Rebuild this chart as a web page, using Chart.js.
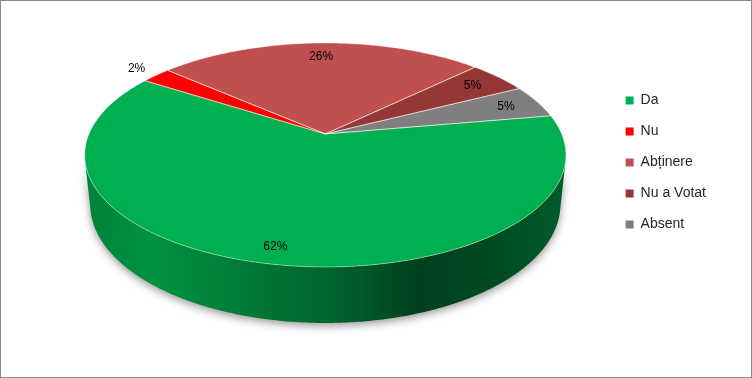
<!DOCTYPE html>
<html><head><meta charset="utf-8">
<script src="https://cdn.jsdelivr.net/npm/chart.js@4/dist/chart.umd.min.js"></script>
<style>html,body{margin:0;padding:0;background:#fff;}#wrap{width:752px;height:378px;position:relative;}</style>
</head><body><div id="wrap"><canvas id="c" width="752" height="378"></canvas></div>
<script>
// ---- data ----
const categories = ['Da', 'Nu', 'Abținere', 'Nu a Votat', 'Absent'];
const votes = [26, 1, 11, 2, 2];
const sliceColors = ['#00B050', '#FF0000', '#C0504D', '#953735', '#7F7F7F'];
const firstSliceAngle = 80;

// ---- 3D view (perspective) ----
const TILT = 27.2 * Math.PI / 180;
const RAD = 0.2109;
const THICK = 0.05;
const FIG_FRAC = 0.8615;
const FIG_SHIFT = 0.126;
// wall shading stops: [position 0..1 across figure, brightness factor]
const wallShade = [[0, 0.74], [0.14, 0.83], [0.35, 0.68], [0.51, 0.57], [0.70, 0.36], [0.86, 0.43], [1, 0.52]];

function proj(theta, r, h) {
  const u = RAD * r * Math.sin(theta), w = RAD * r * Math.cos(theta);
  const yc = w * Math.sin(TILT) + h * Math.cos(TILT);
  const zc = 1 + w * Math.cos(TILT) - h * Math.sin(TILT);
  return [u / zc, -yc / zc];
}
function hexRgb(h) { const n = parseInt(h.slice(1), 16); return [(n >> 16) & 255, (n >> 8) & 255, n & 255]; }
function shade(hex, f) { const c = hexRgb(hex); return 'rgb(' + c.map(v => Math.round(v * f)).join(',') + ')'; }

const pie3d = {
  id: 'pie3d',
  beforeDatasetsDraw(chart) {
    const ctx = chart.ctx;
    const arcs = chart.getDatasetMeta(0).data;
    const a0 = arcs[0];
    const R = a0.outerRadius, cx = a0.x, cy = a0.y;
    let minY = Infinity, maxY = -Infinity, minX = Infinity, maxX = -Infinity;
    for (let i = 0; i <= 720; i++) {
      const t = i * Math.PI / 360;
      for (const h of [0, -THICK]) {
        const p = proj(t, 1, h);
        minY = Math.min(minY, p[1]); maxY = Math.max(maxY, p[1]);
        minX = Math.min(minX, p[0]); maxX = Math.max(maxX, p[0]);
      }
    }
    const s = (2 * R * FIG_FRAC) / (maxY - minY);
    const oy = cy + FIG_SHIFT * R - (minY + maxY) / 2 * s;
    const P = (t, r, h) => { const p = proj(t, r, h); return [cx + p[0] * s, oy + p[1] * s]; };
    const figL = cx + minX * s, figR = cx + maxX * s;

    const slices = arcs.map((a, i) => {
      let t1 = a.startAngle + Math.PI / 2, t2 = a.endAngle + Math.PI / 2;
      const k = Math.floor(t1 / (2 * Math.PI));
      t1 -= k * 2 * Math.PI; t2 -= k * 2 * Math.PI;
      return { t1, t2, color: sliceColors[i], i };
    });

    // walls (front-facing part only)
    const vis = Math.acos(-RAD / Math.cos(TILT));
    const v1 = vis, v2 = 2 * Math.PI - vis;
    ctx.save();
    slices.forEach(sl => {
      for (const off of [-2 * Math.PI, 0, 2 * Math.PI]) {
        const a = Math.max(sl.t1 + off, v1), b = Math.min(sl.t2 + off, v2);
        if (b <= a) continue;
        const g = ctx.createLinearGradient(figL, 0, figR, 0);
        wallShade.forEach(([pos, f]) => g.addColorStop(pos, shade(sl.color, f)));
        const n = Math.max(2, Math.ceil((b - a) / 0.01));
        ctx.beginPath();
        for (let j = 0; j <= n; j++) { const p = P(a + (b - a) * j / n, 1, 0); j ? ctx.lineTo(p[0], p[1]) : ctx.moveTo(p[0], p[1]); }
        for (let j = n; j >= 0; j--) { const p = P(a + (b - a) * j / n, 1, -THICK); ctx.lineTo(p[0], p[1]); }
        ctx.closePath();
        ctx.shadowColor = 'rgba(0,0,0,0.4)'; ctx.shadowBlur = 8; ctx.shadowOffsetY = 3;
        ctx.fillStyle = g; ctx.fill();
        ctx.shadowColor = 'transparent';
      }
    });
    ctx.restore();

    // top faces
    ctx.save();
    slices.forEach(sl => {
      const n = Math.max(2, Math.ceil((sl.t2 - sl.t1) / 0.01));
      ctx.beginPath();
      const c = P(0, 0, 0); ctx.moveTo(c[0], c[1]);
      for (let j = 0; j <= n; j++) { const p = P(sl.t1 + (sl.t2 - sl.t1) * j / n, 1, 0); ctx.lineTo(p[0], p[1]); }
      ctx.closePath();
      ctx.fillStyle = sl.color; ctx.fill();
    });
    ctx.lineWidth = 0.6; ctx.strokeStyle = 'rgba(255,255,255,0.7)'; ctx.lineJoin = 'round';
    slices.forEach(sl => {
      const n = Math.max(2, Math.ceil((sl.t2 - sl.t1) / 0.01));
      ctx.beginPath();
      const c = P(0, 0, 0); ctx.moveTo(c[0], c[1]);
      for (let j = 0; j <= n; j++) { const p = P(sl.t1 + (sl.t2 - sl.t1) * j / n, 1, 0); ctx.lineTo(p[0], p[1]); }
      ctx.closePath();
      ctx.stroke();
    });

    // labels
    const total = votes.reduce((x, y) => x + y, 0);
    ctx.font = '12px "Liberation Sans", Arial, sans-serif';
    ctx.fillStyle = '#000'; ctx.textAlign = 'center'; ctx.textBaseline = 'middle';
    slices.forEach(sl => {
      const span = sl.t2 - sl.t1, mid = (sl.t1 + sl.t2) / 2;
      const r = span < 0.18 ? 1.13 : 0.858 - 0.035 * Math.cos(mid);
      const p = P(mid, r, 0);
      ctx.fillText(Math.round(votes[sl.i] / total * 100) + '%', p[0], p[1]);
    });
    ctx.restore();
    return false;
  },
  afterDraw(chart) {
    const ctx = chart.ctx;
    ctx.save(); ctx.strokeStyle = '#8a8a8a'; ctx.lineWidth = 1;
    ctx.strokeRect(0.5, 0.5, chart.width - 1, chart.height - 1);
    ctx.restore();
  }
};

new Chart(document.getElementById('c'), {
  type: 'pie',
  data: { labels: categories, datasets: [{ data: votes, backgroundColor: sliceColors, borderWidth: 0 }] },
  options: {
    responsive: false, animation: false, rotation: firstSliceAngle,
    layout: { padding: { left: 42, right: 36, top: 0, bottom: 53 } },
    plugins: {
      tooltip: { enabled: false },
      legend: {
        position: 'right',
        labels: { boxWidth: 8, boxHeight: 8, padding: 17, color: '#262626', font: { family: '"Liberation Sans", Arial, sans-serif', size: 14 } }
      }
    }
  },
  plugins: [pie3d]
});
</script></body></html>
